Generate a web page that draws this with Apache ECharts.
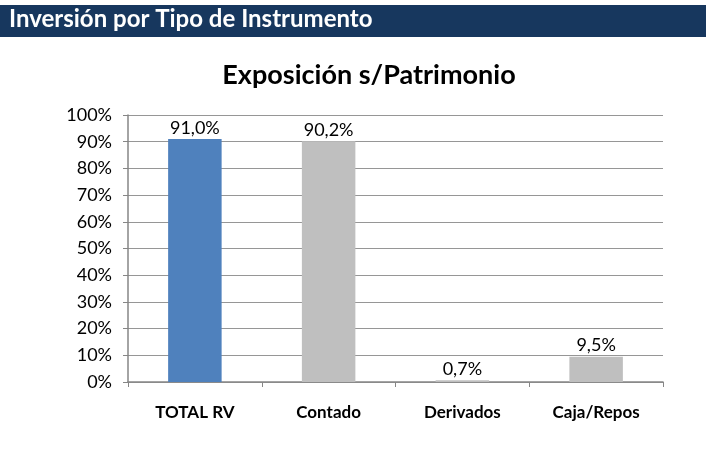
<!DOCTYPE html>
<html><head><meta charset="utf-8">
<script src="https://cdn.jsdelivr.net/npm/echarts@6/dist/echarts.min.js"></script>
<style>html,body{margin:0;padding:0;background:#fff}#c{width:714px;height:450px}</style>
</head><body><div id="c"></div>
<script>
var categories = ['TOTAL RV', 'Contado', 'Derivados', 'Caja/Repos'];
var values = [91.0, 90.2, 0.7, 9.5];
var barColors = ['#4F81BD', '#BFBFBF', '#BFBFBF', '#BFBFBF'];
var headerText = 'Inversión por Tipo de Instrumento';
var chartTitle = 'Exposición s/Patrimonio';

var font = 'Lato, "Open Sans", sans-serif';
var chart = echarts.init(document.getElementById('c'), null, {renderer: 'canvas'});
chart.setOption({
  animation: false,
  graphic: [
    {type: 'rect', left: 0, top: 5, shape: {width: 706, height: 32}, style: {fill: '#17375E'}, z: -1},
    {type: 'text', left: 9, top: 7, style: {text: headerText, fill: '#fff', font: 'bold 24px ' + font}}
  ],
  title: {
    text: chartTitle, left: 364, top: 57, textAlign: 'center',
    textStyle: {fontFamily: font, fontWeight: 'bold', fontSize: 27, color: '#000'}
  },
  grid: {left: 128, right: 51, top: 115, bottom: 68, containLabel: false},
  xAxis: {
    type: 'category', data: categories,
    axisLine: {lineStyle: {color: '#868686', width: 1.5}},
    axisTick: {show: true, length: 5, lineStyle: {color: '#868686'}},
    axisLabel: {color: '#000', fontFamily: font, fontWeight: 'bold', fontSize: 17, margin: 22}
  },
  yAxis: {
    type: 'value', min: 0, max: 100, interval: 10,
    axisLine: {show: true, lineStyle: {color: '#868686', width: 1.5}},
    axisTick: {show: true, length: 5, lineStyle: {color: '#868686'}},
    splitLine: {lineStyle: {color: '#969696', width: 1.2}},
    axisLabel: {color: '#000', fontFamily: font, fontSize: 18, margin: 16, formatter: '{value}%'}
  },
  series: [{
    type: 'bar', barWidth: '40%',
    data: values.map(function (v, i) { return {value: v, itemStyle: {color: barColors[i]}}; }),
    label: {
      show: true, position: 'top', distance: 2, color: '#000', fontFamily: font, fontSize: 18,
      formatter: function (p) { return p.value.toFixed(1).replace('.', ',') + '%'; }
    }
  }]
});
</script></body></html>
